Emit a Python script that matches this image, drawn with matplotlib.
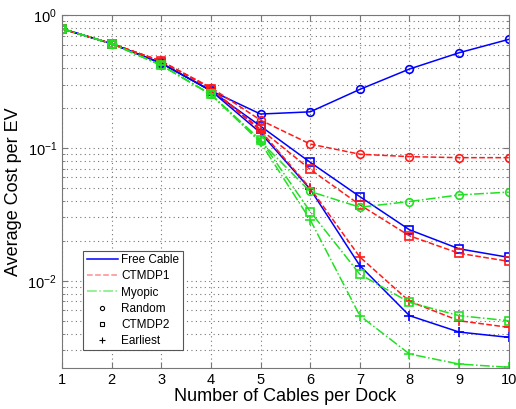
import numpy as np
import matplotlib
matplotlib.use('Agg')
import matplotlib.pyplot as plt
from matplotlib.lines import Line2D

cables = [1, 2, 3, 4, 5, 6, 7, 8, 9, 10]

# Free Cable (blue)
free_random = [0.79, 0.61, 0.435, 0.27, 0.18, 0.187, 0.276, 0.393, 0.521, 0.657]
free_ctmdp2 = [0.79, 0.61, 0.435, 0.27, 0.146, 0.078, 0.043, 0.0242, 0.0174, 0.015]
free_earliest = [0.79, 0.61, 0.435, 0.27, 0.13, 0.049, 0.013, 0.00546, 0.00411, 0.00375]
# CTMDP1 (red)
ctmdp1_random = [0.79, 0.61, 0.45, 0.285, 0.162, 0.107, 0.0897, 0.086, 0.0845, 0.0845]
ctmdp1_ctmdp2 = [0.79, 0.61, 0.45, 0.28, 0.138, 0.069, 0.0373, 0.0218, 0.0161, 0.014]
ctmdp1_earliest = [0.79, 0.61, 0.45, 0.28, 0.135, 0.0498, 0.0151, 0.0070, 0.0050, 0.00446]
# Myopic (green)
myopic_random = [0.79, 0.61, 0.42, 0.253, 0.112, 0.047, 0.0358, 0.0395, 0.0443, 0.0465]
myopic_ctmdp2 = [0.79, 0.61, 0.42, 0.253, 0.115, 0.0332, 0.0112, 0.00687, 0.00546, 0.0050]
myopic_earliest = [0.79, 0.61, 0.42, 0.253, 0.11, 0.0288, 0.00546, 0.00281, 0.00236, 0.00223]

plt.rcParams['font.family'] = ['Liberation Sans', 'DejaVu Sans']

BLUE = '#0000ff'
RED = '#ff1a1a'
GREEN = '#22e022'

def drawPlot():
    fig = plt.figure(figsize=(5.16, 4.09), dpi=100)
    ax = fig.add_axes([0.12, 0.10, 0.866, 0.863])

    styles = [
        (free_random, BLUE, '-', 'o'), (free_ctmdp2, BLUE, '-', 's'), (free_earliest, BLUE, '-', '+'),
        (ctmdp1_random, RED, '--', 'o'), (ctmdp1_ctmdp2, RED, '--', 's'), (ctmdp1_earliest, RED, '--', '+'),
        (myopic_random, GREEN, '-.', 'o'), (myopic_ctmdp2, GREEN, '-.', 's'), (myopic_earliest, GREEN, '-.', '+'),
    ]
    for y, c, ls, mk in styles:
        ms = 7 if mk == '+' else 5.5
        ax.semilogy(cables, y, color=c, ls=ls, lw=1.1, marker=mk, ms=ms,
                    mfc='none', mec=c, mew=1.2)

    ax.set_xlim(1, 10)
    ax.set_ylim(0.0022, 1)
    ax.set_xticks(cables)
    dots = (0, (1, 3))
    ax.grid(True, which='major', axis='both', ls=dots, color='#777777', lw=0.8)
    ax.grid(True, which='minor', axis='y', ls=dots, color='#777777', lw=0.8)
    ax.tick_params(which='both', direction='in', top=True, right=True, color='#777777',
                   labelsize=10.5)
    ax.tick_params(which='major', length=4)
    ax.tick_params(which='minor', length=2.5)
    ax.tick_params(axis='y', which='minor', labelleft=False)
    for s in ax.spines.values():
        s.set_color('#777777')

    ax.set_xlabel('Number of Cables per Dock', fontsize=13, labelpad=1)
    ax.set_ylabel('Average Cost per EV', fontsize=13, labelpad=4)

    handles = [
        Line2D([], [], color=BLUE, ls='-', lw=1.1),
        Line2D([], [], color=RED, ls='--', lw=1.1, alpha=0.5),
        Line2D([], [], color=GREEN, ls='-.', lw=1.1, alpha=0.6),
        Line2D([], [], color='k', ls='none', marker='o', ms=3, mfc='none', mew=0.8),
        Line2D([], [], color='k', ls='none', marker='s', ms=3, mfc='none', mew=0.8),
        Line2D([], [], color='k', ls='none', marker='+', ms=4, mew=0.8),
    ]
    labels = ['Free Cable', 'CTMDP1', 'Myopic', 'Random', 'CTMDP2', 'Earliest']
    leg = ax.legend(handles, labels, loc='lower left', bbox_to_anchor=(0.048, 0.05),
                    fontsize=8.5, fancybox=False, framealpha=1, edgecolor='#555555',
                    handlelength=2.6, handletextpad=0.3, borderpad=0.3, labelspacing=0.35,
                    borderaxespad=0)
    leg.get_frame().set_linewidth(0.8)

    fig.savefig('out.png', dpi=100)

def main():
    drawPlot()

if __name__ == '__main__':
    main()
